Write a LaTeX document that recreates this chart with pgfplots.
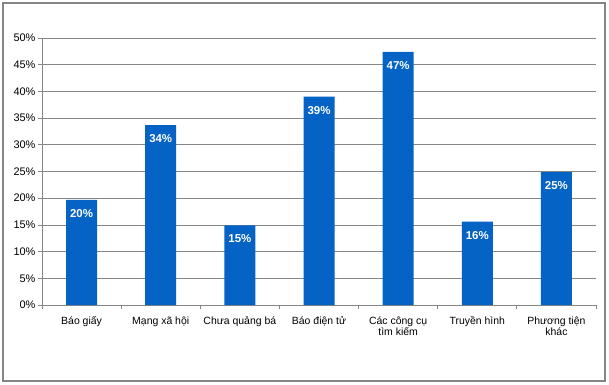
\documentclass[border=0pt]{standalone}
\usepackage{pgfplots}
\pgfplotsset{compat=1.18}
\usepackage{fontspec}
\setmainfont{Liberation Sans}
\definecolor{barblue}{RGB}{4,99,196}
\definecolor{gridgray}{RGB}{134,134,134}
\begin{document}
\begin{tikzpicture}[x=1bp,y=1bp]
\path (-42,-79) rectangle (567,305);
\draw[gridgray,line width=1.2bp] (-39,-76) rectangle (563,302);
\begin{axis}[
  at={(0,0)}, anchor=south west,
  scale only axis, width=554bp, height=267bp,
  ymin=0, ymax=50, ytick={0,5,...,50},
  yticklabel={\pgfmathprintnumber{\tick}\%},
  /pgf/number format/assume math mode=true,
  xmin=-0.5, xmax=6.5,
  xtick={0,...,6},
  xticklabels={Báo giấy, Mạng xã hội, Chưa quảng bá, Báo điện tử, Các công cụ\\tìm kiếm, Truyền hình, Phương tiện\\khác},
  xticklabel style={align=center, font=\fontsize{10.5}{11}\selectfont, yshift=-4bp},
  yticklabel style={font=\fontsize{11}{12}\selectfont, xshift=1bp},
  major x tick style={draw=none},
  minor xtick={-0.5,0.5,...,6.5},
  tick align=outside,
  major tick length=4bp, minor tick length=4bp,
  tick style={gridgray, line width=0.8bp},
  axis x line*=bottom, axis y line*=left,
  axis line style={gridgray, line width=0.8bp, -},
  ymajorgrids, grid style={gridgray, line width=0.8bp},
  ybar, bar width=31bp,
  nodes near coords={\pgfmathprintnumber[fixed,precision=0]{\pgfplotspointmeta}\%},
  nodes near coords style={anchor=north, yshift=-6bp, text=white, font=\bfseries\fontsize{11.5}{12}\selectfont},
  clip=false,
]
\addplot[fill=barblue, draw=none] coordinates {
(0,19.7) (1,33.7) (2,14.9) (3,39.0) (4,47.4) (5,15.6) (6,24.9)
};
\end{axis}
\end{tikzpicture}
\end{document}
